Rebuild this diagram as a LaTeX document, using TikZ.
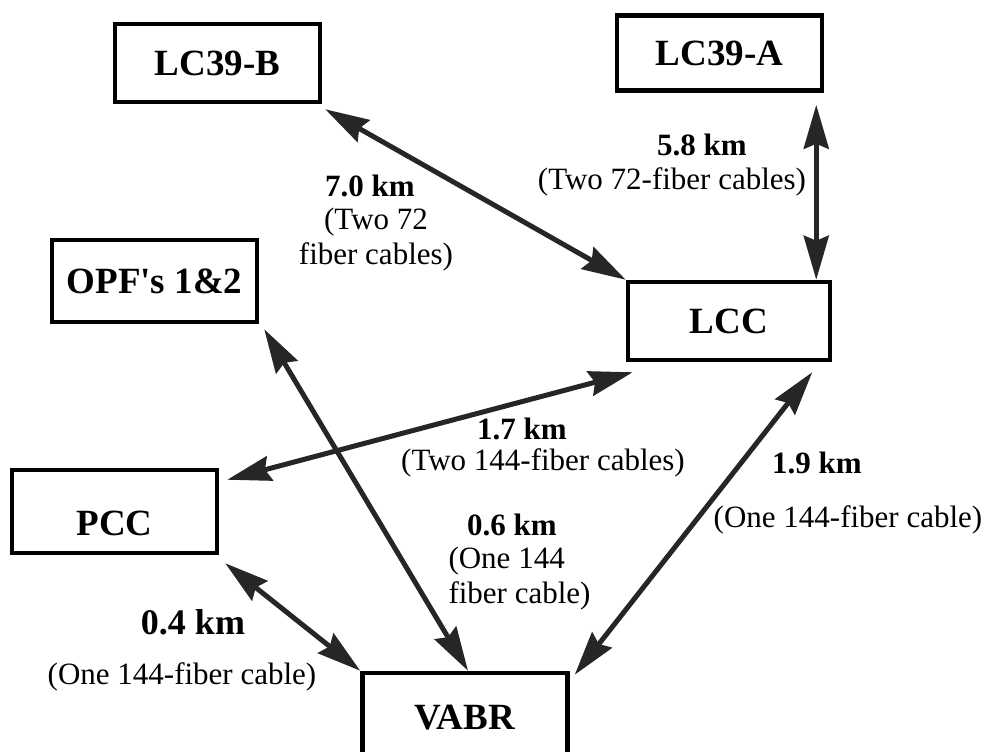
\documentclass[tikz,border=0pt]{standalone}
\usepackage{fontspec}
\setmainfont{Liberation Serif}
\usetikzlibrary{arrows.meta}

\begin{document}
\begin{tikzpicture}[x=1pt, y=-1pt, >={Stealth[length=44pt,width=25pt,inset=5pt]},
  site/.style={draw, line width=4.5pt, minimum width=205pt, minimum height=78pt, inner sep=0pt,
    font=\fontsize{37}{40}\selectfont\bfseries},
  link/.style={<->, line width=5pt, draw=black!85, fill=black!85},
  km/.style={font=\fontsize{31}{35}\selectfont\bfseries},
  cab/.style={font=\fontsize{31}{35}\selectfont, align=center}]
\useasboundingbox (0,0) rectangle (989,752);

% sites
\node[site] (lc39b) at (217.5,63) {LC39-B};
\node[site, minimum height=75pt] (lc39a) at (719.5,53) {LC39-A};
\node[site, minimum height=82pt] (opf) at (154.5,281) {OPF\textquotesingle s 1\&2};
\node[site, minimum width=202pt] (lcc) at (729,321) {LCC};
\node[site, minimum height=83pt, text height=48pt, text depth=0pt] (pcc) at (114.5,511.5) {PCC};
\node[site, minimum height=90pt] (vabr) at (465,718) {VABR};

% cables
\draw[link] ([shift={(3,5)}]lc39b.south east) -- (lcc.north west);
\draw[link] ([shift={(-8,12)}]lc39a.south east) -- ([xshift=-16]lcc.north east);
\draw[link] ([shift={(5,5)}]opf.south east) -- ([xshift=3]vabr.north);
\draw[link] ([shift={(8,12)}]pcc.north east) -- ([shift={(7,10)}]lcc.south west);
\draw[link] ([shift={(6,8)}]pcc.south east) -- (vabr.north west);
\draw[link] ([shift={(-20,10)}]lcc.south east) -- ([shift={(5,4)}]vabr.north east);

% distances
\node[km] (d70) at (370,186) {7.0 km};
\node[cab] (c70) at (376,240) {(Two 72\\fiber cables)};
\node[km] (d58) at (702,145) {5.8 km};
\node[cab] (c58) at (672,182) {(Two 72-fiber cables)};
\node[km] (d17) at (522,429) {1.7 km};
\node[cab] (c17) at (543,463) {(Two 144-fiber cables)};
\node[km] (d19) at (817,463) {1.9 km};
\node[cab] (c19) at (848,520) {(One 144-fiber cable)};
\node[km] (d06) at (512,525) {0.6 km};
\node[cab, align=left, anchor=west] (c06) at (445,579) {(One 144\\fiber cable)};
\node[km, font=\fontsize{36}{40}\selectfont\bfseries] (d04) at (193,622) {0.4 km};
\node[cab] (c04) at (182,677) {(One 144-fiber cable)};
\end{tikzpicture}
\end{document}
